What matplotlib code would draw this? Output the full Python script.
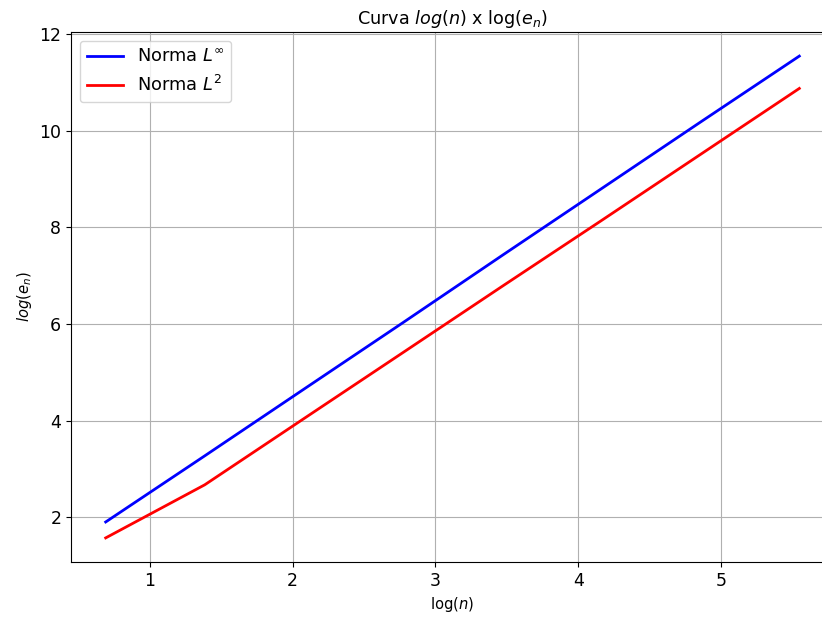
import numpy as np
import matplotlib.pyplot as plt

# n = 2, 4, ..., 256
log_n = [0.693, 1.386, 2.079, 2.773, 3.466, 4.159, 4.852, 5.545]
err_inf = [1.90, 3.27, 4.65, 6.03, 7.42, 8.80, 10.18, 11.55]
err_l2 = [1.57, 2.67, 4.04, 5.41, 6.78, 8.14, 9.51, 10.88]

fig = plt.figure(figsize=(8.22, 6.17), dpi=100)
ax = fig.add_axes([71 / 822, 55 / 617, 763 / 822, 530 / 617])

ax.plot(log_n, err_inf, color='blue', lw=2, label=r'Norma $L^{\infty}$')
ax.plot(log_n, err_l2, color='red', lw=2, label=r'Norma $L^2$')

ax.set_title(r'Curva $log(n)$ x log($e_n$)', fontsize=12.7)
ax.set_xlabel(r'log($n$)', fontsize=10.6)
ax.set_ylabel(r'$log(e_n)$', fontsize=10.6)
ax.tick_params(labelsize=12.5)
ax.grid(True)
ax.legend(fontsize=12.8, loc='upper left')

fig.savefig('out.png', dpi=100)
